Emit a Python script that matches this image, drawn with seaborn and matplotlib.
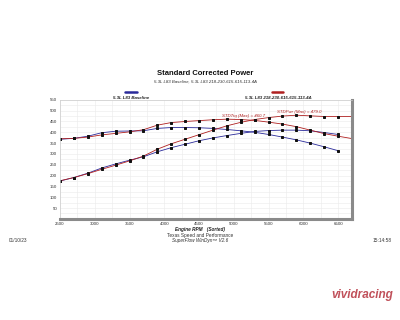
import matplotlib
matplotlib.use("Agg")
import matplotlib.pyplot as plt
from matplotlib.lines import Line2D
import seaborn as sns
import pandas as pd

# ---- data ----
rpm_base = [2500, 2700, 2900, 3100, 3300, 3500, 3700, 3900, 4100, 4300, 4500,
            4700, 4900, 5100, 5300, 5500, 5700, 5900, 6100, 6300, 6500]
base_trq = [368, 372, 382, 398, 405, 406, 407, 418, 422, 422, 421,
            418, 413, 407, 400, 390, 378, 365, 350, 333, 315]
base_pwr = [175, 191, 211, 235, 254, 271, 287, 310, 329, 345, 361,
            374, 385, 395, 404, 408, 410, 410, 407, 399, 390]

rpm_mod = [2500, 2700, 2900, 3100, 3300, 3500, 3700, 3900, 4100, 4300, 4500,
           4700, 4900, 5100, 5300, 5500, 5700, 5900, 6100, 6300, 6500, 6700]
mod_trq = [370, 372, 378, 388, 395, 402, 412, 433, 445, 450, 454,
           458, 460.7, 459, 455, 447, 438, 426, 410, 394, 382, 371]
mod_pwr = [176, 191, 209, 229, 248, 268, 290, 322, 347, 368, 389,
           410, 430, 446, 459, 468, 475, 479, 476, 473, 473, 473]

series_names = ["5.3L L83 Baseline", "5.3L L83 218-230-615-615-113-4A"]
x_ticks = [2500, 3000, 3500, 4000, 4500, 5000, 5500, 6000, 6500]
y_ticks = [50, 100, 150, 200, 250, 300, 350, 400, 450, 500, 550]

blue = "#2a2a9a"
red = "#b02020"

df = pd.concat([
    pd.DataFrame({"rpm": rpm_base, "val": base_trq, "series": "bt"}),
    pd.DataFrame({"rpm": rpm_base, "val": base_pwr, "series": "bp"}),
    pd.DataFrame({"rpm": rpm_mod, "val": mod_trq, "series": "mt"}),
    pd.DataFrame({"rpm": rpm_mod, "val": mod_pwr, "series": "mp"}),
])

sns.set_style("white")
plt.rcParams["font.family"] = ["Liberation Sans", "DejaVu Sans"]

fig = plt.figure(figsize=(4.0, 3.2), dpi=100)
ax = fig.add_axes([0.15, 0.316, 0.73, 0.372])

colors = {"bt": blue, "bp": blue, "mt": red, "mp": red}
for key in ["bt", "bp", "mt", "mp"]:
    sub = df[df["series"] == key]
    sns.lineplot(data=sub, x="rpm", y="val", ax=ax, color=colors[key], lw=0.6,
                 marker="s", markersize=1.4, markerfacecolor="#111111",
                 markeredgecolor="#111111", estimator=None, sort=True, legend=False)

ax.set_xlim(2500, 6700)
ax.set_ylim(0, 550)
ax.set_xticks(x_ticks)
ax.set_yticks(y_ticks)
ax.set_xticks(list(range(2500, 6701, 250)), minor=True)
ax.set_yticks(list(range(25, 551, 25)), minor=True)
ax.grid(True, which="both", color="#ebebeb", lw=0.4)
ax.tick_params(axis="both", labelsize=3.2, length=0, pad=2, colors="#333333")
ax.set_xlabel("")
ax.set_ylabel("")
for s in ["left", "top"]:
    ax.spines[s].set_color("#cccccc")
    ax.spines[s].set_linewidth(0.5)
for s in ["bottom", "right"]:
    ax.spines[s].set_color("#8a8a8a")
    ax.spines[s].set_linewidth(2.2)

ax.text(5140, 468, "STDTrq (Max) = 460.7", color=red, fontsize=3.2,
        ha="center", va="bottom", style="italic")
ax.text(5940, 485, "STDPwr (Max) = 479.0", color=red, fontsize=3.2,
        ha="center", va="bottom", style="italic")

# titles
fig.text(0.5125, 0.765, "Standard Corrected Power", ha="center", fontsize=5.5,
         fontweight="bold", color="#111111")
fig.text(0.5125, 0.742, series_names[0] + ", " + series_names[1], ha="center",
         fontsize=3.2, style="italic", color="#333333")

# legend
fig.add_artist(Line2D([125 / 400, 137 / 400], [0.712, 0.712], color=blue, lw=1.8))
fig.add_artist(Line2D([272 / 400, 283 / 400], [0.712, 0.712], color=red, lw=1.8))
fig.text(131 / 400, 0.692, series_names[0], ha="center", fontsize=3.2,
         fontweight="bold", style="italic", color="#222222")
fig.text(278 / 400, 0.692, series_names[1], ha="center", fontsize=3.2,
         fontweight="bold", style="italic", color="#222222")

# bottom texts
fig.text(0.5, 0.278, "Engine RPM   (Sorted)", ha="center", fontsize=3.4,
         fontweight="bold", style="italic", color="#222222")
fig.text(0.5, 0.258, "Texas Speed and Performance", ha="center", fontsize=3.4,
         color="#333333")
fig.text(0.5, 0.243, "SuperFlow WinDyn\u2122 V2.6", ha="center", fontsize=3.4,
         style="italic", color="#333333")
fig.text(0.045, 0.245, "01/10/23", ha="center", fontsize=3.4, color="#333333")
fig.text(0.955, 0.245, "15:14:58", ha="center", fontsize=3.4, color="#333333")

fig.text(0.905, 0.07, "vividracing", ha="center", fontsize=8.5, fontweight="bold",
         style="italic", color="#c0505a")

fig.savefig("out.png", dpi=100, facecolor="white")
